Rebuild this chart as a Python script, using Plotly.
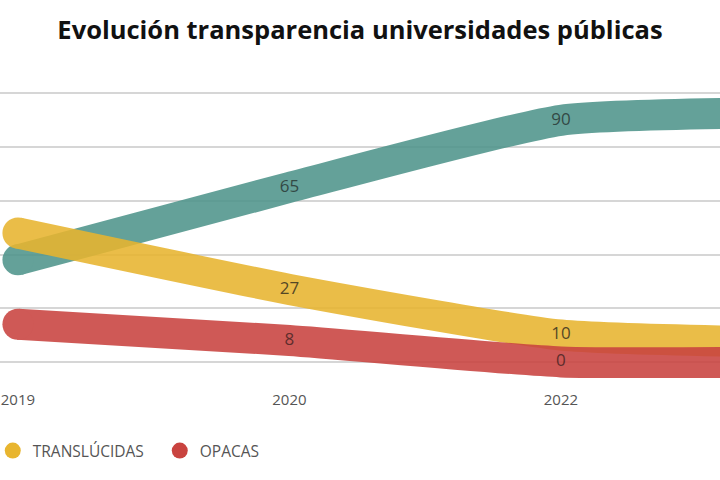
import plotly.graph_objects as go

years = ["2019", "2020", "2022", "2023"]
transparentes = [38, 65, 90, 93]
translucidas = [48, 27, 10, 7]
opacas = [14, 8, 0, 0]

series_names = ["TRANSPARENTES", "TRANSLÚCIDAS", "OPACAS"]
colors = ["#4f958b", "#e8b52f", "#c9433f"]
text_colors = ["#16302c", "#3d2e08", "#4a1010"]
title_text = "Evolución transparencia universidades públicas"

fig = go.Figure()

for vals, name, col, tcol in zip([transparentes, translucidas, opacas], series_names, colors, text_colors):
    fig.add_trace(go.Scatter(
        x=years, y=vals, mode="lines+markers+text",
        line=dict(color=col, width=31, shape="spline", smoothing=0.5),
        marker=dict(color=col, size=[31] + [0] * (len(vals) - 1), line=dict(width=0), opacity=1),
        text=[str(v) for v in vals[:-1]] + [""],
        textposition=["middle left"] + ["middle center"] * (len(vals) - 1),
        textfont=dict(family="Open Sans", size=17, color=tcol),
        opacity=0.88, showlegend=False, cliponaxis=False, hoverinfo="skip",
    ))

for name, col in zip(series_names, colors):
    fig.add_trace(go.Scatter(
        x=[None], y=[None], mode="markers", name=name,
        marker=dict(color=col, size=22, symbol="circle"),
    ))

fig.update_layout(
    width=720, height=480,
    paper_bgcolor="white", plot_bgcolor="white",
    margin=dict(l=0, r=0, t=80, b=102, autoexpand=False),
    title=dict(text=title_text, x=0.5, xanchor="center", y=1 - 30 / 480, yanchor="middle",
               font=dict(family="Open Sans", size=25.5, color="#111111", weight=700)),
    xaxis=dict(type="category", range=[-0.066, 2.586], showgrid=False, zeroline=False,
               showline=False, ticks="outside", ticklen=8, tickcolor="rgba(0,0,0,0)",
               tickfont=dict(family="Open Sans", size=15, color="#555555")),
    yaxis=dict(range=[-6, 105], tickvals=[0, 20, 40, 60, 80, 100], showticklabels=False,
               showgrid=True, gridcolor="#d6d6d6", gridwidth=1.5, zeroline=False, showline=False),
    legend=dict(orientation="h", x=-0.242, xanchor="left", y=-0.245, yanchor="middle",
                font=dict(family="Open Sans", size=15.5, color="#555555"),
                itemsizing="trace", entrywidth=122, entrywidthmode="pixels",
                bgcolor="rgba(0,0,0,0)"),
)

fig.write_html("out.html")
